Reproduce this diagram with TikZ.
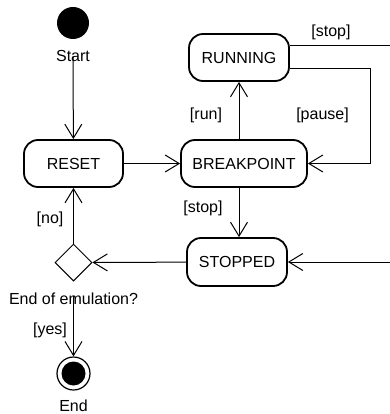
\documentclass[tikz,border=0pt]{standalone}
\usepackage{fontspec}
\setmainfont{Liberation Sans}
\usetikzlibrary{arrows.meta,shapes.geometric}
\begin{document}
\begin{tikzpicture}%
	[	x=1pt,
	y=-1pt,
	every node/.style={font=\fontsize{16}{19}\selectfont},
	state/.style={draw=black,line width=1.8pt,rounded corners=14pt,minimum height=47pt,inner sep=0pt},
	initial/.style={circle,fill=black,minimum size=32pt,inner sep=0pt},
	final/.style={circle,draw=black,line width=1.2pt,minimum size=33pt,inner sep=0pt,
		path picture={\fill[black] (path picture bounding box.center) circle (12pt);}},
	choice/.style={diamond,draw=black,line width=1pt,minimum width=37pt,minimum height=37pt,inner sep=0pt},
	guard/.style={anchor=base,inner sep=0pt},
	caption/.style={anchor=base,inner sep=0pt},
	edge/.style={draw=black,line width=1pt,-{Straight Barb[length=14pt,width=17pt]}},
	plain/.style={draw=black,line width=1pt}]

\useasboundingbox (0,0) rectangle (389,414);

\node[initial] (start) at (73,23) {};
\node[caption] (startlabel) at (73,62) {Start};

\node[state,minimum width=99pt] (reset) at (73.5,163.5) {RESET};
\node[state,minimum width=126pt] (breakpoint) at (244,163.5) {BREAKPOINT};
\node[state,minimum width=100pt] (running) at (239,57.5) {RUNNING};
\node[state,minimum width=100pt,minimum height=48pt] (stopped) at (237,262) {STOPPED};

\node[choice] (decision) at (73.5,262.5) {};
\node[caption] (question) at (73.5,304) {End of emulation?};

\node[final] (finish) at (73.5,373.5) {};
\node[caption] (finishlabel) at (73.5,411) {End};

\coordinate (stopcorner) at (391,46);
\coordinate (pausecorner) at (370,69);

\draw[edge] (startlabel.south) ++(0,-6) -- (reset);
\draw[edge] (reset) -- (breakpoint);
\draw[edge] (breakpoint.north -| running) -- (running.south);
\draw[edge] (breakpoint.south -| running) -- (stopped.north -| running);
\draw[edge] (running.east |- pausecorner) -- (pausecorner) |- (breakpoint.east);
\draw[plain] (running.east |- stopcorner) -- (stopcorner);
\draw[edge] (stopcorner) |- (stopped.east);
\draw[edge] (stopped) -- (decision);
\draw[edge] (decision) -- (reset);
\draw[edge] (question.south) ++(0,-8) -- (finish);

\node[guard] (stopguard) at (331,37) {[stop]};
\node[guard] (pauseguard) at (322.5,120) {[pause]};
\node[guard] (runguard) at (206,120) {[run]};
\node[guard] (haltguard) at (203,212) {[stop]};
\node[guard] (noguard) at (50,223) {[no]};
\node[guard] (yesguard) at (50,334) {[yes]};
\end{tikzpicture}
\end{document}
